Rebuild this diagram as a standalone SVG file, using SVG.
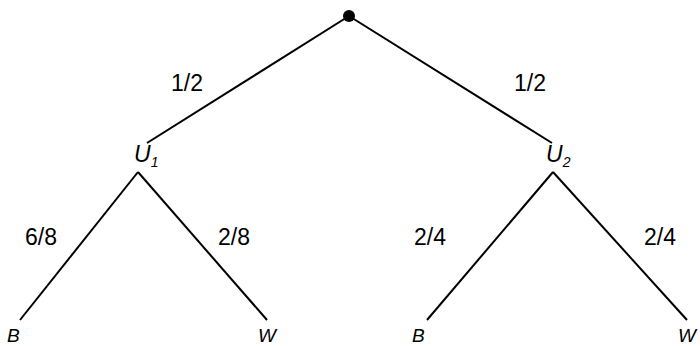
<svg xmlns="http://www.w3.org/2000/svg" width="700" height="346" viewBox="0 0 700 346">
<style>
.e{stroke:#000;stroke-width:2;fill:none;stroke-linecap:butt}
text{font-family:"Liberation Sans",Arial,sans-serif;font-size:23px;fill:#000}
.i{font-style:italic}
.s{font-size:14px}
.l{font-size:19px;font-style:italic}
</style>
<rect width="700" height="346" fill="#fff"/>
<g id="connectors">
<line class="e" x1="349" y1="16" x2="147" y2="143"/>
<line class="e" x1="349" y1="16" x2="552" y2="143"/>
<line class="e" x1="138" y1="172" x2="20" y2="320"/>
<line class="e" x1="138" y1="172" x2="267" y2="320"/>
<line class="e" x1="553" y1="172" x2="427" y2="320"/>
<line class="e" x1="553" y1="172" x2="687" y2="320"/>
<text x="171" y="91">1/2</text>
<text x="514" y="91">1/2</text>
<text x="25" y="245">6/8</text>
<text x="218" y="245">2/8</text>
<text x="414" y="245">2/4</text>
<text x="644" y="245">2/4</text>
</g>
<g id="root"><circle cx="349" cy="16" r="6" fill="#000"/></g>
<g id="U1"><text class="i" x="134" y="162">U<tspan class="s" dy="5">1</tspan></text></g>
<g id="U2"><text class="i" x="546" y="162">U<tspan class="s" dy="5">2</tspan></text></g>
<g id="B1"><text class="l" x="7" y="342">B</text></g>
<g id="W1"><text class="l" x="258" y="342">W</text></g>
<g id="B2"><text class="l" x="412" y="342">B</text></g>
<g id="W2"><text class="l" x="678" y="342">W</text></g>
</svg>
